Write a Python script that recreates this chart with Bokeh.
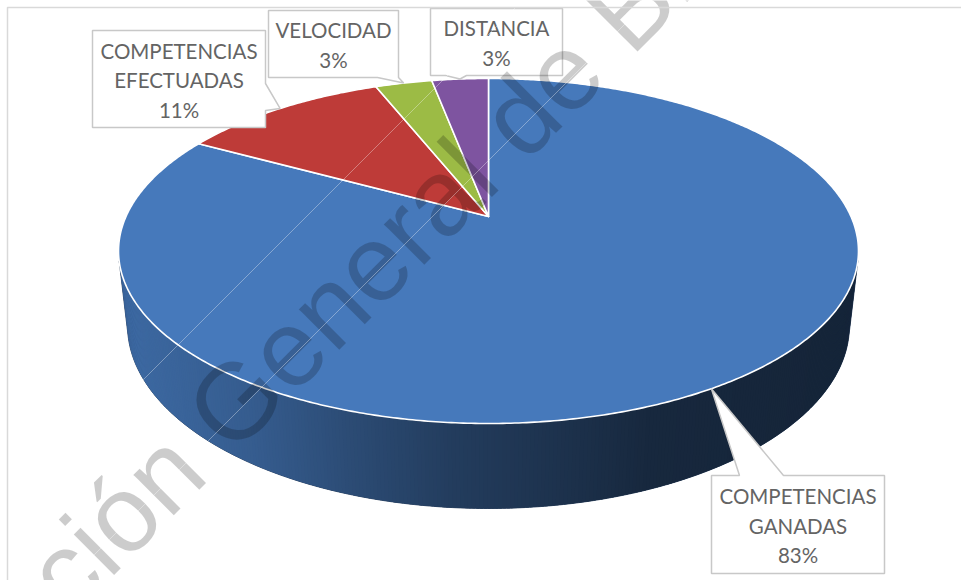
import numpy as np
from bokeh.plotting import figure
from bokeh.models import Range1d
from bokeh.core.properties import value
from bokeh.embed import file_html
from bokeh.resources import INLINE

# ---------------- data ----------------
categories = ["COMPETENCIAS GANADAS", "COMPETENCIAS EFECTUADAS", "VELOCIDAD", "DISTANCIA"]
values = [83, 11, 3, 3]
label_names = [["COMPETENCIAS", "GANADAS"], ["COMPETENCIAS", "EFECTUADAS"], ["VELOCIDAD"], ["DISTANCIA"]]
colors = ["#4679BB", "#BE3B38", "#9CBB45", "#7E54A0"]
watermark_left = "Dirección"
watermark_right = "General de Bibliotecas"

# ---------------- layout / style ----------------
PW, PH = 961, 580
def Y(sy):
    return 580.0 - np.asarray(sy, dtype=float)

# 3D perspective projection of the pie (screen px)
CX, CY = 488.0, 216.0
K, A, B, M, E = 0.2, 362.5, 165.6, 0.024, 75.0

def proj(theta_deg, r=1.0, d=0.0):
    t = np.radians(theta_deg)
    u = r * np.sin(t)
    v = r * np.cos(t)
    w = 1 + K * v + M * d
    return CX + A * u / w, CY + (-B * v + E * d) / w

def hex2rgb(h):
    h = h.lstrip("#")
    return np.array([int(h[i:i + 2], 16) for i in (0, 2, 4)], dtype=float)

def rgb2hex(c):
    c = np.clip(np.round(c), 0, 255).astype(int)
    return "#%02x%02x%02x" % tuple(c)

shade_x = [118, 250, 350, 450, 560, 650, 860]
shade_f = [0.87, 0.76, 0.62, 0.50, 0.41, 0.33, 0.30]

p = figure(width=PW, height=PH, x_range=Range1d(0, PW), y_range=Range1d(0, PH),
           output_backend="svg", toolbar_location=None, min_border=0,
           x_axis_type=None, y_axis_type=None)
p.grid.visible = False
p.outline_line_color = None
p.background_fill_color = "white"
p.border_fill_color = "white"

total = float(sum(values))
starts, ends = [], []
a = 0.0
for v in values:
    starts.append(a)
    a += 360.0 * v / total
    ends.append(a)

def facing(th0, th1):
    t1x, t1y = proj(th0)
    t2x, t2y = proj(th1)
    b1x, b1y = proj(th0, d=1.0)
    b2x, b2y = proj(th1, d=1.0)
    qx = [t1x, t2x, b2x, b1x]
    qy = [t1y, t2y, b2y, b1y]
    area = sum(qx[k] * qy[(k + 1) % 4] - qx[(k + 1) % 4] * qy[k] for k in range(4))
    return area < 0, qx, qy

# ---- side walls (front-facing strips only) ----
base_x, base_y, base_c = [], [], []
sx_list, sy_list, sc_list = [], [], []
STEP = 0.5
for i, (a0, a1) in enumerate(zip(starts, ends)):
    n = max(2, int((a1 - a0) / STEP) + 1)
    th = np.linspace(a0, a1, n)
    base = hex2rgb(colors[i])
    vis = [facing(th[j], th[j + 1])[0] for j in range(n - 1)]
    vis_th = [th[j] for j in range(n - 1) if vis[j]] + ([th[j + 1] for j in range(n - 1) if vis[j]][-1:] )
    if len(vis_th) >= 2:
        tx_, ty_ = proj(np.array(vis_th))
        bx_, by_ = proj(np.array(vis_th[::-1]), d=1.0)
        base_x.append(list(tx_) + list(bx_))
        base_y.append(list(Y(list(ty_) + list(by_))))
        base_c.append(rgb2hex(base * 0.45))
    for j in range(n - 1):
        if not vis[j]:
            continue
        e0 = th[j]
        e1 = min(th[j + 1] + STEP * 0.8, vis_th[-1])
        _, qx, qy = facing(e0, e1)
        f = np.interp((qx[0] + qx[1]) / 2, shade_x, shade_f)
        sx_list.append(qx)
        sy_list.append(list(Y(qy)))
        sc_list.append(rgb2hex(base * f))
p.patches(xs=base_x, ys=base_y, fill_color=base_c, line_color=base_c, line_width=0.8)
p.patches(xs=sx_list, ys=sy_list, fill_color=sc_list, line_color=None)

# ---- top face wedges ----
wx, wy = [], []
for a0, a1 in zip(starts, ends):
    th = np.linspace(a0, a1, max(3, int((a1 - a0) / 0.5) + 1))
    px, py = proj(th)
    wx.append([CX] + list(px))
    wy.append(list(Y([CY] + list(py))))
p.patches(xs=wx, ys=wy, fill_color=colors, line_color="white", line_width=1.6,
          line_join="round")

# ---- data labels (callouts) ----
# (x0, y0, x1, y1, edge, pointer base a, pointer base b) in screen px
label_layout = [
    (711, 475, 884, 573, "top", 739, 783),
    (92, 30, 265, 127, "right", 83, 110),
    (268, 10, 398, 77, "bottom", 377, 398),
    (430, 8, 562, 75, "bottom", 445, 466),
]
LINE_SP = 29.5
box_xs, box_ys = [], []
tx, ty, tt = [], [], []
for i, (x0, y0, x1, y1, edge, b0, b1) in enumerate(label_layout):
    mid = (starts[i] + ends[i]) / 2
    tipx, tipy = proj(mid)
    if edge == "top":
        pts = [(x0, y0), (b0, y0), (tipx, tipy), (b1, y0), (x1, y0), (x1, y1), (x0, y1)]
    elif edge == "right":
        pts = [(x0, y0), (x1, y0), (x1, b0), (tipx, tipy), (x1, b1), (x1, y1), (x0, y1)]
    else:
        pts = [(x0, y0), (x1, y0), (x1, y1), (b1, y1), (tipx, tipy), (b0, y1), (x0, y1)]
    box_xs.append([q[0] for q in pts])
    box_ys.append(list(Y([q[1] for q in pts])))
    lines = label_names[i] + ["%d%%" % round(100 * values[i] / total)]
    cyb = (y0 + y1) / 2 + 1
    nl = len(lines)
    for k, s in enumerate(lines):
        tx.append((x0 + x1) / 2)
        ty.append(float(Y(cyb + (k - (nl - 1) / 2) * LINE_SP)))
        tt.append(s)
p.patches(xs=box_xs, ys=box_ys, fill_color="white", line_color="#C8C8C8", line_width=1.5)
p.text(x=tx, y=ty, text=tt, text_font=value("Lato"), text_font_size="20.5px",
       text_color="#646464", text_align="center", text_baseline="middle")

# ---- watermark ----
R2 = np.sqrt(2)
s_g, t_b = -159.0, 449.0
gx, gy = (s_g + t_b) / R2, (t_b - s_g) / R2
dxp, dyp = (s_g - 30 + t_b) / R2, (t_b - s_g + 30) / R2
p.text(x=[gx], y=[float(Y(gy))], text=[watermark_right], angle=np.pi / 4,
       text_font=value("Liberation Sans"), text_font_size="108px",
       text_color="black", text_alpha=0.2, text_align="left", text_baseline="alphabetic")
p.text(x=[dxp], y=[float(Y(dyp))], text=[watermark_left], angle=np.pi / 4,
       text_font=value("Liberation Sans"), text_font_size="108px",
       text_color="black", text_alpha=0.2, text_align="right", text_baseline="alphabetic")
for c in (522.0, 648.0):
    lx = np.array([0.0, 700.0])
    p.line(x=lx, y=Y(c - lx), line_color="white", line_alpha=0.35, line_width=1)

# ---- chart border (top and left) ----
p.line(x=[7, 7, PW], y=[0, 573, 573], line_color="#D9D9D9", line_width=1.5)

open("out.html", "w").write(file_html(p, INLINE))
